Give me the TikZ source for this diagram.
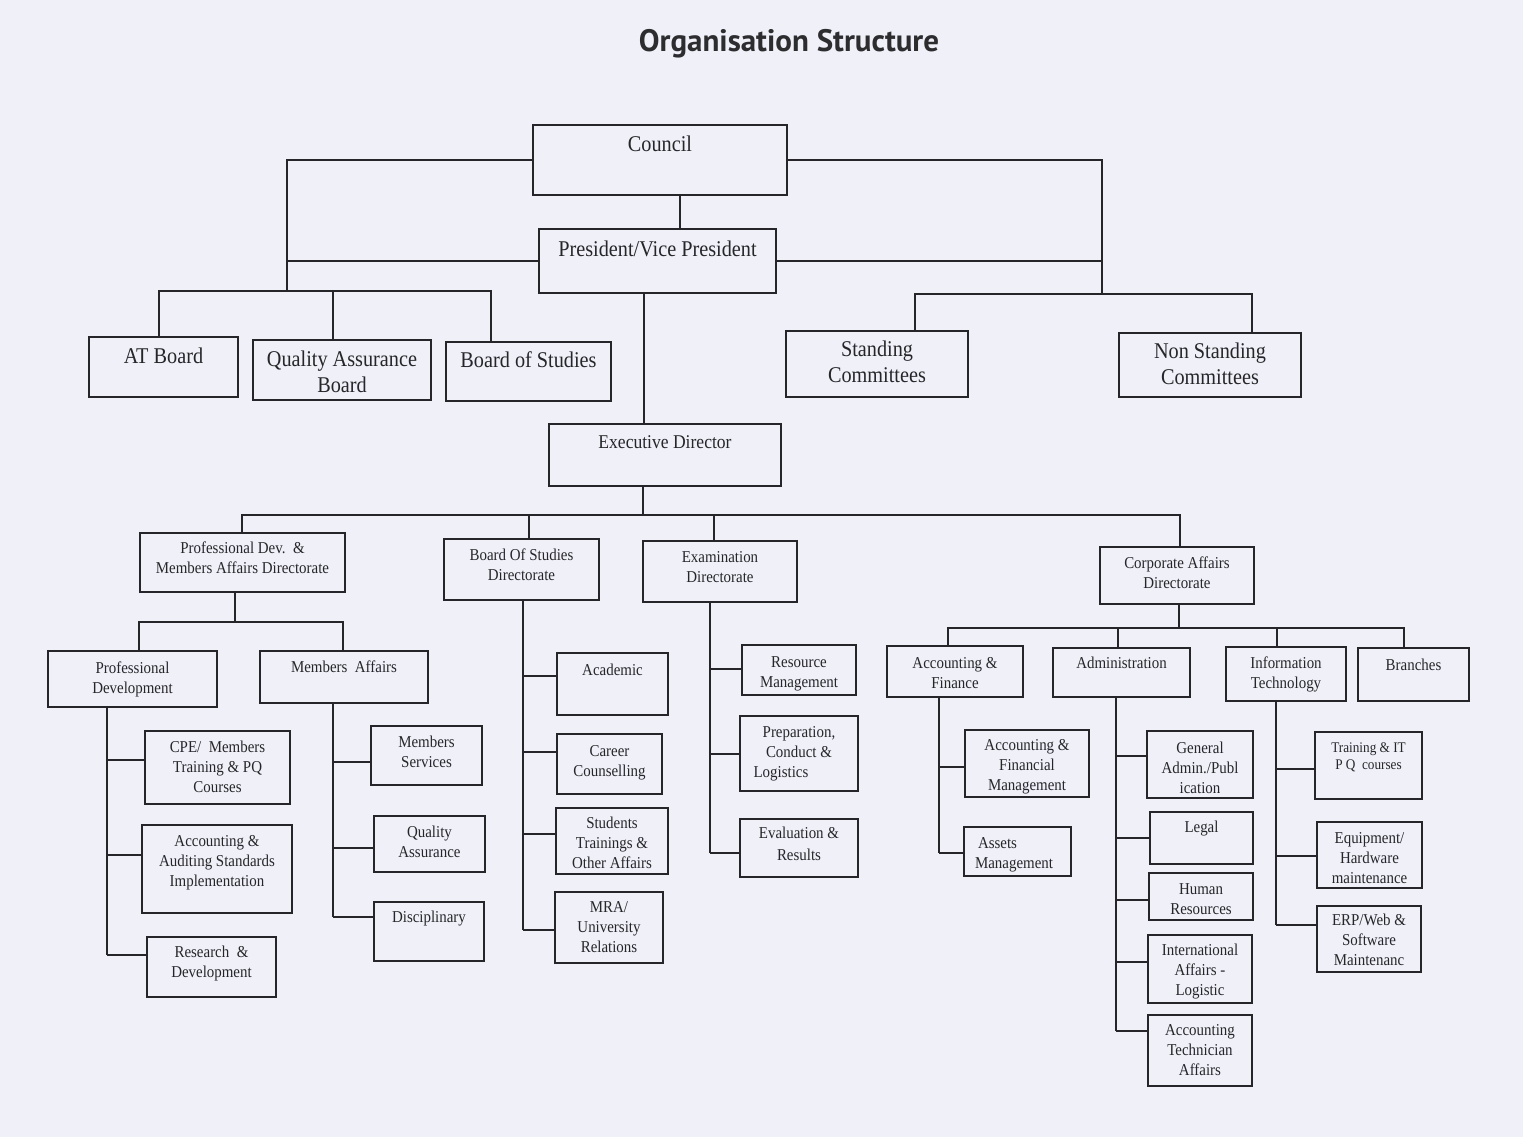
\documentclass[tikz,border=0pt]{standalone}
\usepackage{fontspec}
\setmainfont{Liberation Serif}[FakeStretch=0.9]
\newfontfamily\titlefont{PT Sans}
\usetikzlibrary{calc}
\definecolor{bg}{RGB}{239,240,248}
\definecolor{ink}{RGB}{38,38,42}
\definecolor{titleink}{RGB}{45,45,48}
\newcommand\fszA{\fontsize{22.5}{26}\selectfont}
\newcommand\fszB{\fontsize{19.5}{23}\selectfont}
\newcommand\fszC{\fontsize{16.6}{20}\selectfont}
\newcommand\fszD{\fontsize{14.7}{17}\selectfont}
% name, x1, y1, x2, y2, first baseline offset, font, text
\newcommand\bx[8]{\node[orgbox, anchor=north west] (#1) at (#2,#3) {\parbox[c][\dimexpr #5pt-#3pt\relax][t]{\dimexpr #4pt-#2pt\relax}{#7\centering\rule{0pt}{#6pt}#8\par}};}
% branch from trunk x (#3) to box #1 at offset #2 below its top
\newcommand\brn[3]{\coordinate (#1in) at ($(#1.north west)+(0,#2)$); \draw[orgline] (#1in -| #3) -- (#1in);}
\begin{document}
\begin{tikzpicture}[x=1pt, y=-1pt,
  orgbox/.style={draw=ink, line width=1.6pt, inner sep=0pt, outer sep=0pt, text=ink},
  orgline/.style={draw=ink, line width=1.4pt}]
\fill[bg] (0,0) rectangle (1523,1137);
\useasboundingbox (0,0) rectangle (1523,1137);

\node[font=\titlefont\bfseries\fontsize{31}{34}\selectfont, text=titleink, anchor=base] (title) at (789,52) {Organisation Structure};

% ---------- top level ----------
\bx{council}{533}{125}{787}{195}{26}{\fszA}{Council}
\bx{pres}{539}{229}{776}{293}{27}{\fszA}{President/Vice President}
\bx{atb}{89}{337}{238}{397}{26}{\fszA}{AT Board}
\bx{qab}{253}{340}{431}{400}{26}{\fszA}{Quality Assurance\\Board}
\bx{bos}{446}{342}{611}{401}{25}{\fszA}{Board of Studies}
\bx{stand}{786}{331}{968}{397}{25}{\fszA}{Standing\\Committees}
\bx{nonst}{1119}{333}{1301}{397}{25}{\fszA}{Non Standing\\Committees}
\bx{exec}{549}{424}{781}{486}{24}{\fszB}{Executive Director}

% ---------- directorates ----------
\bx{pdma}{140}{533}{345}{592}{20}{\fszC}{Professional Dev.\ \ \&\\Members Affairs Directorate}
\bx{bosd}{444}{539}{599}{600}{21}{\fszC}{Board Of Studies\\Directorate}
\bx{exd}{643}{541}{797}{602}{21}{\fszC}{Examination\\Directorate}
\bx{corp}{1100}{547}{1254}{604}{21}{\fszC}{Corporate Affairs\\Directorate}

% ---------- third level ----------
\bx{pd}{48}{651}{217}{707}{22}{\fszC}{Professional\\Development}
\bx{ma}{260}{651}{428}{703}{21}{\fszC}{Members\ \ Affairs}
\bx{af}{887}{646}{1023}{697}{22}{\fszC}{Accounting \&\\Finance}
\bx{adm}{1053}{648}{1190}{697}{20}{\fszC}{Administration}
\bx{it}{1226}{647}{1346}{701}{21}{\fszC}{Information\\Technology}
\bx{brch}{1358}{648}{1469}{701}{22}{\fszC}{Branches}

% ---------- leaves ----------
\bx{cpe}{145}{731}{290}{804}{21}{\fszC}{CPE/\ \ Members\\Training \& PQ\\Courses}
\bx{aas}{142}{825}{292}{913}{21}{\fszC}{Accounting \&\\Auditing Standards\\Implementation}
\bx{rd}{147}{937}{276}{997}{20}{\fszC}{Research\ \ \&\\Development}
\bx{ms}{371}{726}{482}{785}{21}{\fszC}{Members\\Services}
\bx{qa}{374}{816}{485}{872}{21}{\fszC}{Quality\\Assurance}
\bx{disc}{374}{902}{484}{961}{20}{\fszC}{Disciplinary}
\bx{acad}{557}{653}{668}{715}{22}{\fszC}{Academic}
\bx{cc}{557}{734}{662}{794}{22}{\fszC}{Career\\Counselling}
\bx{st}{556}{808}{668}{874}{20}{\fszC}{Students\\Trainings \&\\Other Affairs}
\bx{mra}{555}{892}{663}{963}{20}{\fszC}{MRA/\\University\\Relations}
\bx{rm}{742}{645}{856}{695}{22}{\fszC}{Resource\\Management}
\bx{prep}{740}{716}{858}{791}{21}{\fszC}{Preparation,\\Conduct \&\\Logistics\hspace*{36pt}}
\bx{eval}{740}{819}{858}{877}{19}{\fszC}{Evaluation \&\\[2pt]Results}
\bx{afm}{965}{730}{1089}{797}{20}{\fszC}{Accounting \&\\Financial\\Management}
\bx{assets}{964}{827}{1071}{876}{21}{\fszC}{\raggedright\hspace*{14pt}Assets\\\hspace*{11pt}Management}
\bx{ga}{1147}{731}{1253}{798}{22}{\fszC}{General\\Admin./Publ\\ication}
\bx{legal}{1150}{812}{1253}{864}{20}{\fszC}{Legal}
\bx{hr}{1149}{873}{1253}{920}{21}{\fszC}{Human\\Resources}
\bx{ia}{1148}{935}{1252}{1003}{20}{\fszC}{International\\Affairs -\\Logistic}
\bx{acctech}{1148}{1015}{1252}{1086}{20}{\fszC}{Accounting\\Technician\\Affairs}
\bx{tit}{1315}{732}{1422}{799}{20}{\fszD}{Training \& IT\\P Q\ \ courses}
\bx{eq}{1317}{822}{1422}{888}{21}{\fszC}{Equipment/\\Hardware\\maintenance}
\bx{erp}{1317}{906}{1421}{972}{19}{\fszC}{ERP/Web \&\\Software\\Maintenanc}

% ---------- connector guide coordinates ----------
\coordinate (xC) at (680,0);
\coordinate (xL) at (287,0);   \coordinate (yB1) at (0,291);
\coordinate (xR) at (1102,0);  \coordinate (yB2) at (0,294);
\coordinate (xAT) at (159,0);  \coordinate (xQA) at (333,0);  \coordinate (xBOS) at (491,0);
\coordinate (xST) at (915,0);  \coordinate (xNS) at (1252,0);
\coordinate (xPE) at (644,0);
\coordinate (xED) at (643,0);  \coordinate (yB3) at (0,515);
\coordinate (xPDMA) at (242,0); \coordinate (xBOSD) at (529,0);
\coordinate (xEXD) at (714,0);  \coordinate (xCORP) at (1180,0);
\coordinate (xPDMAd) at (235,0); \coordinate (yB4) at (0,622);
\coordinate (xPD) at (139,0);   \coordinate (xMA) at (343,0);
\coordinate (xPDv) at (107,0);  \coordinate (xMAv) at (333,0);
\coordinate (xBOSv) at (523,0); \coordinate (xEXv) at (710,0);
\coordinate (xCORPd) at (1179,0); \coordinate (yB5) at (0,628);
\coordinate (xAF) at (948,0);   \coordinate (xADM) at (1118,0);
\coordinate (xIT) at (1277,0);  \coordinate (xBR) at (1404,0);
\coordinate (xAFv) at (939,0);  \coordinate (xADMv) at (1116,0);
\coordinate (xITv) at (1276,0);

% ---------- top connectors ----------
\draw[orgline] (council.south -| xC) -- (pres.north -| xC);
\draw[orgline] (council.west) -| (xL |- yB1);
\draw[orgline] (pres.west) -- (pres.west -| xL);
\draw[orgline] (atb.north -| xAT) -- (xAT |- yB1) -- (xBOS |- yB1) -- (bos.north -| xBOS);
\draw[orgline] (qab.north -| xQA) -- (xQA |- yB1);
\draw[orgline] (council.east) -| (xR |- yB2);
\draw[orgline] (pres.east) -- (pres.east -| xR);
\draw[orgline] (stand.north -| xST) -- (xST |- yB2) -- (xNS |- yB2) -- (nonst.north -| xNS);
\draw[orgline] (pres.south -| xPE) -- (exec.north -| xPE);

% ---------- directorate connectors ----------
\draw[orgline] (exec.south -| xED) -- (xED |- yB3);
\draw[orgline] (pdma.north -| xPDMA) -- (xPDMA |- yB3) -- (xCORP |- yB3) -- (corp.north -| xCORP);
\draw[orgline] (bosd.north -| xBOSD) -- (xBOSD |- yB3);
\draw[orgline] (exd.north -| xEXD) -- (xEXD |- yB3);

\draw[orgline] (pdma.south -| xPDMAd) -- (xPDMAd |- yB4);
\draw[orgline] (pd.north -| xPD) -- (xPD |- yB4) -- (xMA |- yB4) -- (ma.north -| xMA);

\draw[orgline] (corp.south -| xCORPd) -- (xCORPd |- yB5);
\draw[orgline] (af.north -| xAF) -- (xAF |- yB5) -- (xBR |- yB5) -- (brch.north -| xBR);
\draw[orgline] (adm.north -| xADM) -- (xADM |- yB5);
\draw[orgline] (it.north -| xIT) -- (xIT |- yB5);

% ---------- leaf branches ----------
\brn{cpe}{29}{xPDv} \brn{aas}{30}{xPDv} \brn{rd}{18}{xPDv}
\draw[orgline] (pd.south -| xPDv) -- (rdin -| xPDv);
\brn{ms}{36}{xMAv} \brn{qa}{32}{xMAv} \brn{disc}{15}{xMAv}
\draw[orgline] (ma.south -| xMAv) -- (discin -| xMAv);
\brn{acad}{23}{xBOSv} \brn{cc}{18}{xBOSv} \brn{st}{26}{xBOSv} \brn{mra}{38}{xBOSv}
\draw[orgline] (bosd.south -| xBOSv) -- (mrain -| xBOSv);
\brn{rm}{24}{xEXv} \brn{prep}{38}{xEXv} \brn{eval}{34}{xEXv}
\draw[orgline] (exd.south -| xEXv) -- (evalin -| xEXv);
\brn{afm}{37}{xAFv} \brn{assets}{26}{xAFv}
\draw[orgline] (af.south -| xAFv) -- (assetsin -| xAFv);
\brn{ga}{25}{xADMv} \brn{legal}{26}{xADMv} \brn{hr}{27}{xADMv} \brn{ia}{27}{xADMv} \brn{acctech}{16}{xADMv}
\draw[orgline] (adm.south -| xADMv) -- (acctechin -| xADMv);
\brn{tit}{37}{xITv} \brn{eq}{34}{xITv} \brn{erp}{19}{xITv}
\draw[orgline] (it.south -| xITv) -- (erpin -| xITv);
\end{tikzpicture}
\end{document}
